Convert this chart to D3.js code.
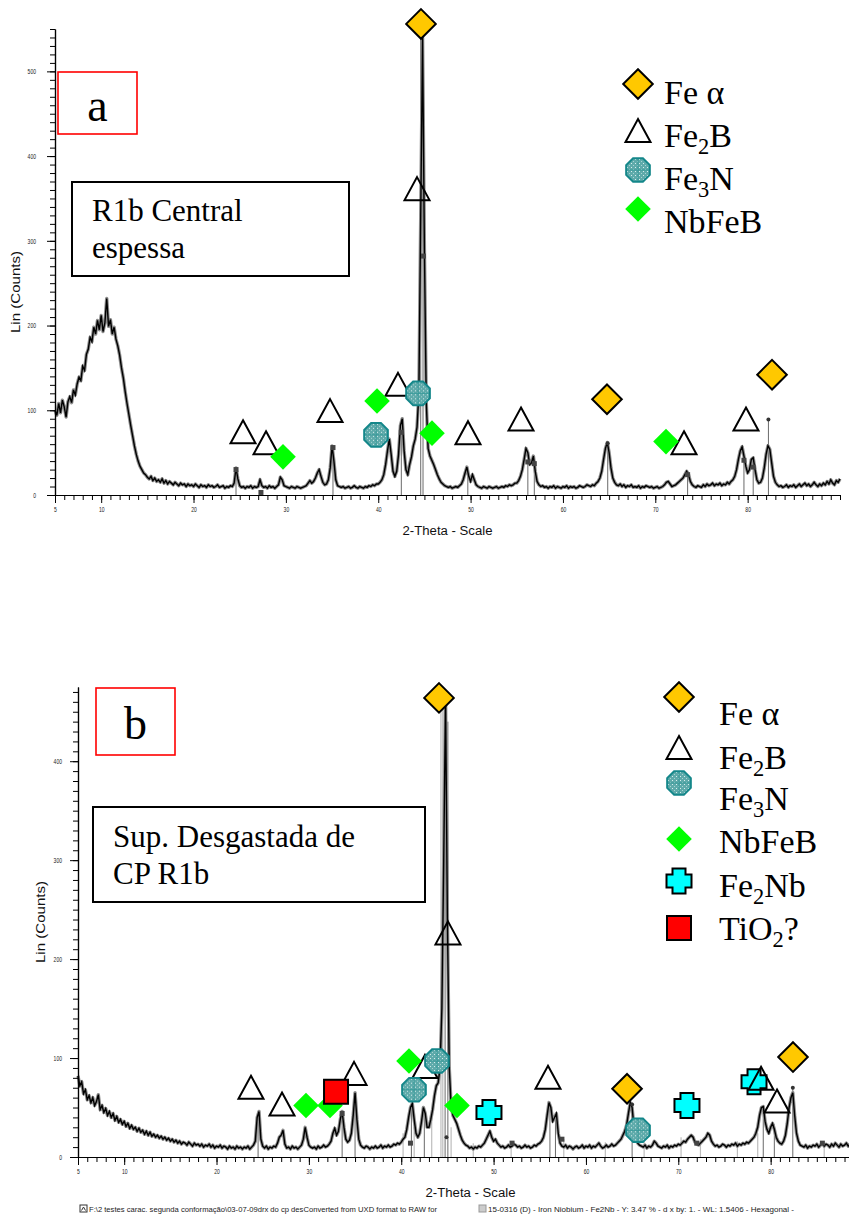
<!DOCTYPE html>
<html>
<head>
<meta charset="utf-8">
<script src="https://cdn.jsdelivr.net/npm/d3@7"></script>
<style>
  body { margin: 0; background: #fff; }
  svg { display: block; }
</style>
</head>
<body>
<svg id="chart" width="849" height="1217"></svg>
<script>
// Scan grid (2-theta, degrees)
const thetaStart = 5;
const thetaStep = 0.2;
const thetaEnd = 90;

// Panel a: R1b central, thick region (counts every 0.2 deg from 5.0 to 90.0)
const countsA = [
  100, 94, 108, 97, 112,   104, 92, 110, 116, 109,   124, 118, 131, 139, 135,
  152, 147, 166, 172, 186,   181, 198, 190, 206, 195,   212, 193, 203, 232, 199,
  207, 190, 198, 184, 176,   165, 150, 138, 122, 108,   95, 82, 70, 58, 48,
  40, 34, 30, 26, 24,   21, 19, 22, 17, 20,   16, 18, 15, 19, 14,
  17, 13, 16, 14, 12,   15, 13, 11, 14, 12,   13, 10, 13, 11, 12,
  10, 13, 11, 9, 12,   10, 11, 9, 12, 10,   11, 9, 10, 12, 9,
  10, 11, 8, 10, 9,   11, 10, 14, 32, 19,   11, 9, 10, 8, 10,
  9, 11, 8, 10, 9,   10, 18, 11, 9, 10,   8, 11, 9, 10, 8,
  10, 12, 21, 18, 11,   10, 9, 8, 10, 9,   8, 10, 9, 8, 9,
  10, 11, 14, 17, 14,   16, 20, 26, 30, 22,   15, 12, 13, 18, 32,
  58, 40, 18, 11, 10,   9, 10, 8, 9, 10,   8, 9, 11, 9, 8,
  10, 9, 8, 10, 9,   11, 10, 12, 11, 13,   13, 15, 18, 24, 36,
  52, 66, 48, 28, 22,   28, 48, 82, 90, 52,   30, 24, 36, 45, 58,
  66, 80, 120, 330, 540,   290, 110, 55, 46, 41,   36, 30, 24, 19, 15,
  13, 11, 10, 9, 10,   8, 9, 10, 9, 11,   13, 18, 26, 33, 22,
  16, 24, 18, 12, 10,   9, 8, 10, 9, 8,   10, 9, 8, 9, 10,
  8, 9, 10, 9, 11,   10, 12, 11, 12, 14,   14, 17, 22, 30, 42,
  55, 50, 36, 38, 46,   28, 16, 12, 10, 11,   9, 10, 8, 10, 9,
  11, 8, 10, 9, 8,   10, 9, 11, 8, 10,   9, 10, 8, 9, 11,
  10, 9, 10, 12, 11,   10, 12, 11, 14, 16,   20, 28, 42, 55, 62,
  50, 32, 20, 15, 12,   11, 13, 10, 12, 9,   11, 10, 12, 9, 10,
  9, 11, 8, 10, 9,   11, 10, 9, 10, 8,   9, 10, 8, 9, 10,
  12, 15, 16, 13, 10,   11, 12, 14, 16, 18,   20, 24, 28, 24, 16,
  12, 10, 9, 11, 10,   9, 12, 10, 13, 11,   12, 14, 11, 13, 12,
  14, 11, 13, 12, 15,   13, 16, 18, 22, 30,   42, 52, 57, 46, 34,
  26, 30, 42, 44, 30,   18, 14, 15, 20, 32,   48, 58, 54, 38, 22,
  15, 12, 10, 11, 9,   10, 12, 9, 11, 10,   12, 9, 11, 13, 10,
  12, 14, 11, 13, 10,   12, 15, 12, 10, 13,   11, 14, 12, 16, 13,
  18, 14, 12, 17, 15,   19
];

// Panel b: worn surface of CP R1b (counts every 0.2 deg from 5.0 to 90.0)
const countsB = [
  82, 72, 76, 64, 68,   58, 62, 55, 60, 52,   56, 63, 48, 52, 45,
  49, 42, 46, 40, 44,   37, 41, 35, 38, 33,   36, 31, 34, 29, 32,
  28, 30, 26, 29, 25,   27, 23, 26, 22, 25,   21, 23, 20, 22, 19,
  21, 18, 20, 17, 19,   16, 18, 15, 17, 14,   16, 13, 15, 14, 12,
  15, 13, 11, 14, 12,   13, 11, 13, 10, 12,   11, 13, 10, 12, 9,
  11, 10, 12, 9, 11,   10, 8, 11, 9, 10,   8, 11, 9, 10, 8,
  10, 9, 11, 8, 10,   12, 16, 40, 46, 18,   11, 9, 11, 8, 10,
  9, 11, 10, 14, 20,   22, 27, 13, 9, 10,   8, 11, 9, 10, 8,
  10, 12, 18, 30, 20,   12, 10, 9, 10, 8,   11, 9, 10, 12, 10,
  11, 13, 16, 24, 29,   22, 26, 38, 46, 30,   18, 15, 17, 24, 42,
  65, 38, 18, 12, 10,   9, 11, 10, 8, 10,   9, 11, 9, 10, 12,
  9, 11, 10, 12, 10,   11, 13, 12, 14, 13,   15, 18, 20, 28, 40,
  50, 54, 38, 24, 20,   24, 36, 50, 44, 30,   30, 38, 48, 62, 72,
  75, 90, 150, 300, 465,   240, 90, 52, 42, 38,   34, 28, 22, 17, 14,
  12, 11, 9, 10, 8,   10, 9, 11, 10, 12,   14, 18, 22, 26, 20,
  16, 18, 14, 12, 10,   11, 9, 10, 12, 10,   11, 13, 12, 10, 11,
  9, 10, 12, 10, 11,   9, 10, 12, 11, 13,   14, 16, 20, 28, 42,
  55, 50, 36, 40, 44,   24, 14, 11, 10, 12,   9, 11, 10, 8, 10,
  11, 9, 10, 12, 9,   11, 10, 12, 9, 11,   10, 12, 14, 11, 9,
  10, 12, 10, 11, 13,   11, 12, 14, 16, 18,   22, 26, 32, 44, 55,
  50, 30, 18, 14, 12,   11, 10, 12, 9, 11,   10, 12, 16, 14, 11,
  10, 9, 11, 10, 12,   9, 11, 10, 12, 11,   13, 12, 14, 16, 15,
  18, 20, 22, 20, 15,   13, 12, 14, 16, 18,   20, 24, 22, 16, 13,
  11, 12, 10, 11, 13,   12, 10, 12, 11, 13,   12, 14, 11, 13, 12,
  14, 13, 15, 14, 16,   18, 20, 24, 30, 42,   50, 51, 36, 28, 24,
  30, 34, 28, 20, 16,   14, 13, 16, 22, 34,   50, 60, 65, 42, 24,
  16, 12, 11, 10, 12,   9, 11, 10, 12, 11,   13, 10, 12, 14, 11,
  13, 12, 10, 13, 11,   14, 12, 10, 13, 11,   12, 14, 11, 13, 10,
  12, 14, 11, 13, 12,   14
];

// Peak-search sticks: [2-theta, counts]
const sticksA = [[24.6, 32], [27.3, 5], [35.1, 56], [42.5, 82], [44.6, 545], [44.85, 540],
  [49.7, 31], [56.2, 39], [56.9, 37], [64.85, 61], [73.5, 24], [79.6, 41], [80.6, 33], [82.25, 89]];
const peakMarksA = [[24.6, 30], [27.3, 3], [35.1, 56], [42.5, 74], [44.9, 282], [56.2, 39], [56.9, 37],
  [73.5, 24], [79.6, 41], [80.6, 33]];
const peakDotsA = [[64.85, 61], [82.25, 89]];

const sticksB = [[24.5, 46], [33.6, 44], [35.0, 62], [41.1, 52], [42.5, 48], [44.75, 470], [45.05, 440],
  [56.1, 55], [56.7, 40], [65.0, 55], [79.2, 50], [80.4, 33], [82.4, 70]];
const cardSticksB = [[40.2, 24], [41.4, 30], [43.3, 40], [44.3, 470], [44.5, 470], [45.4, 30], [47.8, 14],
  [51.9, 14], [57.6, 18], [62.1, 15], [66.3, 16], [70.3, 20], [72.4, 18], [76.4, 16], [78.6, 24], [85.8, 14]];
const peakMarksB = [[33.6, 44], [41.0, 14], [52.0, 14], [57.4, 18], [72.0, 14], [85.6, 14]];
const peakDotsB = [[44.9, 20], [65.0, 53], [82.4, 70]];

// Phase identification symbols: [2-theta, counts]
const feAlphaA = [[44.63, 556], [64.77, 113], [82.64, 142]];
const fe2bA = [[25.36, 74], [27.85, 61], [34.78, 99], [42.14, 130], [44.2, 361], [49.72, 73], [55.46, 89], [73.11, 61], [79.82, 89]];
const fe3nA = [[39.76, 71], [44.31, 120]];
const nbfebA = [[29.69, 45], [39.87, 111], [45.82, 73], [71.16, 63]];

const feAlphaB = [[44.09, 464], [64.45, 69], [82.42, 101]];
const fe2bB = [[23.73, 70], [27.09, 53], [34.89, 84], [42.57, 91], [45.06, 226], [55.89, 80], [78.96, 79], [80.69, 56]];
const fe3nB = [[41.38, 68], [43.87, 97], [65.64, 27]];
const nbfebB = [[29.69, 52], [32.29, 52], [40.84, 97], [46.04, 52]];
const fe2nbB = [[49.5, 45], [70.94, 52], [78.2, 76]];
const tio2B = [[32.94, 66]];

// Axis ticks
const xTickLabels = [5, 10, 20, 30, 40, 50, 60, 70, 80];
const yTickLabelsA = [0, 100, 200, 300, 400, 500];
const yTickLabelsB = [0, 100, 200, 300, 400];

// Legend captions: [text, isSubscript]
const legendText = {
  feAlpha: [["Fe \u03B1", false]],
  fe2b: [["Fe", false], ["2", true], ["B", false]],
  fe3n: [["Fe", false], ["3", true], ["N", false]],
  nbfeb: [["NbFeB", false]],
  fe2nb: [["Fe", false], ["2", true], ["Nb", false]],
  tio2: [["TiO", false], ["2", true], ["?", false]]
};

const svg = d3.select("#chart");
const defs = svg.append("defs");

// Speckled teal fill for the Fe3N octagons
const pat = defs.append("pattern").attr("id", "tealFill")
  .attr("width", 4).attr("height", 4).attr("patternUnits", "userSpaceOnUse");
pat.append("rect").attr("width", 4).attr("height", 4).attr("fill", "#5eaaaa");
pat.append("rect").attr("x", 1).attr("y", 1).attr("width", 1).attr("height", 1).attr("fill", "#d8eeee");
pat.append("rect").attr("x", 3).attr("y", 3).attr("width", 1).attr("height", 1).attr("fill", "#a9d4d4");

function diamondPath(r) { return `M0,${-r}L${r},0L0,${r}L${-r},0Z`; }
function octagonPath(r) {
  const pts = d3.range(8).map(k => {
    const a = Math.PI / 8 + k * Math.PI / 4;
    return [r * Math.cos(a), r * Math.sin(a)];
  });
  return "M" + pts.map(p => p[0].toFixed(2) + "," + p[1].toFixed(2)).join("L") + "Z";
}
function crossPath(l, w) {
  return `M${-w},${-l}H${w}V${-w}H${l}V${w}H${w}V${l}H${-w}V${w}H${-l}V${-w}H${-w}Z`;
}

const symbolStyle = {
  fe2nb: { d: crossPath(12.5, 6.5), fill: "#00ffff", stroke: "#000", sw: 2 },
  fe2b: { d: "M0,-12L12.5,11L-12.5,11Z", fill: "none", stroke: "#000", sw: 2 },
  fe3n: { d: octagonPath(12.8), fill: "url(#tealFill)", stroke: "#14878a", sw: 2, cross: true },
  nbfeb: { d: diamondPath(12.8), fill: "#00ff00", stroke: "none", sw: 0 },
  tio2: { d: "M-12,-12H12V12H-12Z", fill: "#ff0000", stroke: "#000", sw: 2 },
  feAlpha: { d: diamondPath(14.8), fill: "#ffc800", stroke: "#000", sw: 2 }
};

function drawSymbol(g, key, cx, cy) {
  const s = symbolStyle[key];
  const m = g.append("g").attr("transform", `translate(${cx},${cy})`);
  m.append("path").attr("d", s.d).attr("fill", s.fill)
    .attr("stroke", s.stroke).attr("stroke-width", s.sw).attr("stroke-linejoin", "miter");
  if (s.cross) {
    m.append("path").attr("d", "M0,-11V11M-11,0H11")
      .attr("stroke", "#2f9696").attr("stroke-width", 0.8).attr("fill", "none");
  }
}

function caption(g, key, x, y, size) {
  const t = g.append("text").attr("x", x).attr("y", y)
    .attr("font-family", "'Liberation Serif', 'Times New Roman', serif")
    .attr("font-size", size).attr("fill", "#000");
  legendText[key].forEach(([s, sub], i) => {
    const ts = t.append("tspan").text(s);
    if (sub) ts.attr("font-size", size * 0.66).attr("dy", size * 0.22);
    else if (i > 0 && legendText[key][i - 1][1]) ts.attr("dy", -size * 0.22);
  });
}

function drawPanel(cfg) {
  const g = svg.append("g");
  const x = d3.scaleLinear().domain([thetaStart, thetaEnd]).range([cfg.left, cfg.left + 785]);
  const y = d3.scaleLinear().domain([0, cfg.yMax]).range([cfg.base, cfg.top]);

  // reference card sticks (light grey)
  g.selectAll(".card").data(cfg.cardSticks).join("line")
    .attr("x1", d => x(d[0])).attr("x2", d => x(d[0]))
    .attr("y1", y(0)).attr("y2", d => y(d[1]))
    .attr("stroke", "#bdbdbd").attr("stroke-width", 1.2);

  // peak sticks
  g.selectAll(".stick").data(cfg.sticks).join("line")
    .attr("x1", d => x(d[0])).attr("x2", d => x(d[0]))
    .attr("y1", y(0)).attr("y2", d => y(d[1]))
    .attr("stroke", "#6a6a6a").attr("stroke-width", 1);

  // measured scan: grey noise band under a black trace
  const pts = cfg.counts.map((c, i) => [thetaStart + i * thetaStep, c]);
  const line = d3.line().x(d => x(d[0])).y(d => y(d[1]));
  g.append("path").datum(pts).attr("d", line).attr("fill", "none")
    .attr("stroke", "#8e8e8e").attr("stroke-width", 3.4).attr("stroke-linejoin", "round");
  g.append("path").datum(pts).attr("d", line).attr("fill", "none")
    .attr("stroke", "#000").attr("stroke-width", 1.4).attr("stroke-linejoin", "miter");

  // peak marks
  g.selectAll(".pm").data(cfg.peakMarks).join("rect")
    .attr("x", d => x(d[0]) - 2.5).attr("y", d => y(d[1]) - 2.5)
    .attr("width", 5).attr("height", 5).attr("fill", "#444");
  g.selectAll(".pd").data(cfg.peakDots).join("circle")
    .attr("cx", d => x(d[0])).attr("cy", d => y(d[1])).attr("r", 2).attr("fill", "#333");

  // axes
  const axisFont = "'Liberation Sans', Arial, sans-serif";
  const xMinor = g.append("g").attr("transform", `translate(0,${cfg.base})`)
    .call(d3.axisBottom(x).tickValues(d3.range(5, 91, 1)).tickSize(5).tickSizeOuter(0).tickFormat(""));
  const xMajor = g.append("g").attr("transform", `translate(0,${cfg.base})`)
    .call(d3.axisBottom(x).tickValues(xTickLabels).tickSize(8).tickSizeOuter(0).tickPadding(4));
  const yMinor = g.append("g").attr("transform", `translate(${cfg.left},0)`)
    .call(d3.axisLeft(y).tickValues(d3.range(0, cfg.yMax + 1, 10)).tickSize(5).tickSizeOuter(0).tickFormat(""));
  const yMajor = g.append("g").attr("transform", `translate(${cfg.left},0)`)
    .call(d3.axisLeft(y).tickValues(cfg.yTicks).tickSize(8).tickSizeOuter(0).tickPadding(cfg.yPad));
  [xMinor, xMajor, yMinor, yMajor].forEach(a => {
    a.select(".domain").attr("stroke", "#000").attr("stroke-width", 1.2);
    a.selectAll(".tick line").attr("stroke", "#000").attr("stroke-width", 1);
    a.selectAll(".tick text").attr("font-family", axisFont).attr("font-size", 7.5).attr("fill", "#222")
      .attr("textLength", function () { return this.textContent.length * 2.8; })
      .attr("lengthAdjust", "spacingAndGlyphs");
  });

  // axis titles
  g.append("text").attr("transform", `translate(${cfg.yTitleX},${cfg.yTitleY}) rotate(-90)`)
    .attr("text-anchor", "middle").attr("font-family", axisFont).attr("font-size", 12.5)
    .attr("textLength", 82).attr("lengthAdjust", "spacingAndGlyphs").attr("fill", "#111")
    .text("Lin (Counts)");
  g.append("text").attr("x", (cfg.left + cfg.left + 785) / 2).attr("y", cfg.base + 40)
    .attr("text-anchor", "middle").attr("font-family", axisFont).attr("font-size", 12.5)
    .attr("textLength", 90).attr("lengthAdjust", "spacingAndGlyphs").attr("fill", "#111")
    .text("2-Theta - Scale");

  // phase symbols (drawn back to front)
  ["fe2nb", "fe2b", "fe3n", "nbfeb", "tio2", "feAlpha"].forEach(key => {
    (cfg.phases[key] || []).forEach(d => drawSymbol(g, key, x(d[0]), y(d[1])));
  });

  // panel letter box
  const pb = cfg.letterBox;
  g.append("rect").attr("x", pb.x).attr("y", pb.y).attr("width", pb.w).attr("height", pb.h)
    .attr("fill", "#fff").attr("stroke", "#ff0000").attr("stroke-width", 1.6);
  g.append("text").attr("x", pb.x + pb.w / 2).attr("y", pb.ty).attr("text-anchor", "middle")
    .attr("font-family", "'Liberation Serif', 'Times New Roman', serif").attr("font-size", 46)
    .text(cfg.letter);

  // sample description box
  const sb = cfg.sampleBox;
  g.append("rect").attr("x", sb.x).attr("y", sb.y).attr("width", sb.w).attr("height", sb.h)
    .attr("fill", "#fff").attr("stroke", "#000").attr("stroke-width", 2);
  cfg.sampleLines.forEach((s, i) => {
    g.append("text").attr("x", sb.tx).attr("y", sb.ty[i])
      .attr("font-family", "'Liberation Serif', 'Times New Roman', serif").attr("font-size", 31)
      .text(s);
  });

  // legend
  const lg = cfg.legend;
  lg.keys.forEach((key, i) => {
    drawSymbol(g, key, lg.mx, lg.my[i]);
    caption(g, key, lg.tx, lg.ty[i], 34);
  });
  return g;
}

drawPanel({
  left: 55, base: 495, top: 29, yMax: 550, yTicks: yTickLabelsA, yPad: 11,
  yTitleX: 20, yTitleY: 292,
  counts: countsA, sticks: sticksA, cardSticks: [], peakMarks: peakMarksA, peakDots: peakDotsA,
  phases: { feAlpha: feAlphaA, fe2b: fe2bA, fe3n: fe3nA, nbfeb: nbfebA },
  letter: "a", letterBox: { x: 58, y: 72, w: 79, h: 62, ty: 121 },
  sampleBox: { x: 72, y: 182, w: 277, h: 94, tx: 92, ty: [221, 258] },
  sampleLines: ["R1b Central", "espessa"],
  legend: { keys: ["feAlpha", "fe2b", "fe3n", "nbfeb"], mx: 638, my: [84, 131, 170, 209],
    tx: 664, ty: [104, 147, 190, 233] }
});

drawPanel({
  left: 78, base: 1157, top: 687, yMax: 475, yTicks: yTickLabelsB, yPad: 8,
  yTitleX: 45, yTitleY: 922,
  counts: countsB, sticks: sticksB, cardSticks: cardSticksB, peakMarks: peakMarksB, peakDots: peakDotsB,
  phases: { feAlpha: feAlphaB, fe2b: fe2bB, fe3n: fe3nB, nbfeb: nbfebB, fe2nb: fe2nbB, tio2: tio2B },
  letter: "b", letterBox: { x: 96, y: 688, w: 79, h: 67, ty: 739 },
  sampleBox: { x: 93, y: 807, w: 332, h: 95, tx: 113, ty: [847, 884] },
  sampleLines: ["Sup. Desgastada de", "CP R1b"],
  legend: { keys: ["feAlpha", "fe2b", "fe3n", "nbfeb", "fe2nb", "tio2"], mx: 679,
    my: [697, 748, 783, 839, 881, 928], tx: 719, ty: [725, 769, 810, 853, 897, 940] }
});

// scan / card information line
const foot = svg.append("g").attr("font-family", "'Liberation Sans', Arial, sans-serif")
  .attr("font-size", 7).attr("fill", "#222");
foot.append("rect").attr("x", 80).attr("y", 1205).attr("width", 7).attr("height", 7)
  .attr("fill", "#fff").attr("stroke", "#333").attr("stroke-width", 1);
foot.append("path").attr("d", "M81.5,1210.5L83.5,1207L85.5,1210.5").attr("stroke", "#333").attr("fill", "none");
foot.append("text").attr("x", 89).attr("y", 1211.5).attr("textLength", 348).attr("lengthAdjust", "spacingAndGlyphs")
  .text("F:\\2 testes carac. segunda conforma\u00E7\u00E3o\\03-07-09drx do cp desConverted from UXD format to RAW for");
foot.append("rect").attr("x", 479).attr("y", 1205).attr("width", 7).attr("height", 7)
  .attr("fill", "#ccc").attr("stroke", "#999").attr("stroke-width", 1);
foot.append("text").attr("x", 488).attr("y", 1211.5).attr("textLength", 306).attr("lengthAdjust", "spacingAndGlyphs")
  .text("15-0316 (D) - Iron Niobium - Fe2Nb - Y: 3.47 % - d x by: 1. - WL: 1.5406 - Hexagonal -");
</script>
</body>
</html>
